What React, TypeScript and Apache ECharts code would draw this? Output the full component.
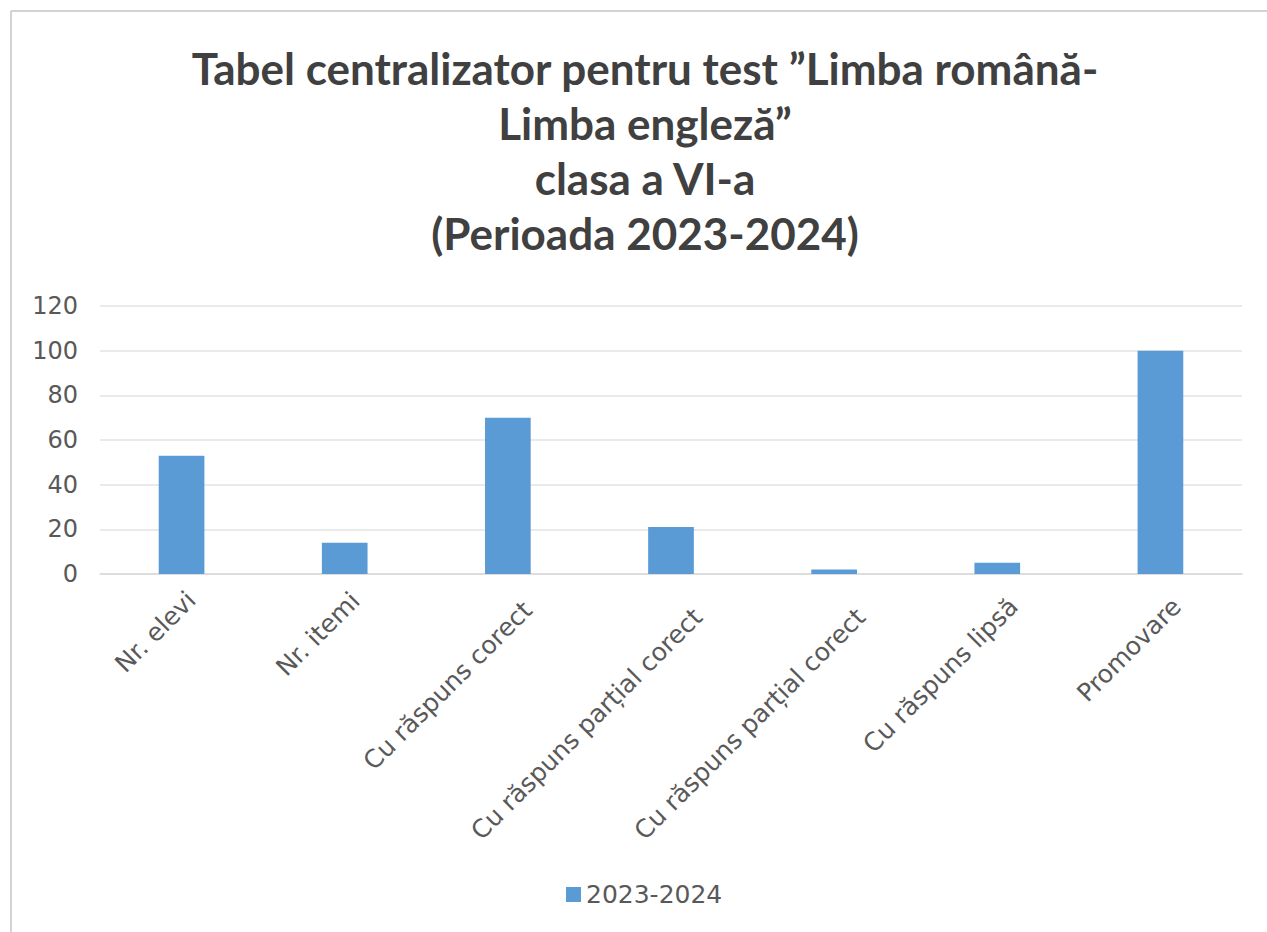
import React, { useEffect, useRef } from "react";
import * as echarts from "echarts";

const titleLines = [
  "Tabel centralizator pentru test \u201DLimba română-",
  "Limba engleză\u201D",
  "clasa a VI-a",
  "(Perioada 2023-2024)",
];
const categories = [
  "Nr. elevi",
  "Nr. itemi",
  "Cu răspuns corect",
  "Cu răspuns parțial corect",
  "Cu răspuns parțial corect",
  "Cu răspuns lipsă",
  "Promovare",
];
const seriesName = "2023-2024";
const values = [53, 14, 70, 21, 2, 5, 100];
const yTicks = { min: 0, max: 120, interval: 20 };

export default function App() {
  const ref = useRef<HTMLDivElement>(null);
  useEffect(() => {
    if (!ref.current) return;
    const chart = echarts.init(ref.current, null, { renderer: "svg" });
    const labelFont = "'DejaVu Sans', sans-serif";
    // per-label downward-right nudge (layout only), mimicking spreadsheet placement
    const nudge = [0, 1, 14, 24, 24, 9, 9];
    const rich: Record<string, any> = {};
    nudge.forEach((n, i) => {
      rich["r" + i] = {
        fontFamily: labelFont,
        fontSize: 25,
        color: "#595959",
        lineHeight: 28 + 2 * n,
      };
    });
    chart.setOption({
      animation: false,
      backgroundColor: "#ffffff",
      graphic: [
        {
          type: "line",
          shape: { x1: 11, y1: 11, x2: 1267, y2: 11 },
          style: { stroke: "#c4c4c4", lineWidth: 1.5 },
        },
        {
          type: "line",
          shape: { x1: 11, y1: 11, x2: 11, y2: 932 },
          style: { stroke: "#c4c4c4", lineWidth: 1.5 },
        },
        {
          type: "text",
          x: 645,
          y: 40,
          style: {
            text: titleLines.join("\n"),
            align: "center",
            verticalAlign: "top",
            font: "bold 44px Lato, sans-serif",
            lineHeight: 55,
            fill: "#404040",
          },
        },
      ],
      legend: {
        data: [seriesName],
        left: 561,
        top: 877,
        icon: "rect",
        itemWidth: 15,
        itemHeight: 15,
        itemGap: 5,
        textStyle: { fontFamily: labelFont, fontSize: 25, color: "#595959" },
      },
      grid: { left: 100, right: 25, top: 306, bottom: 358, containLabel: false },
      xAxis: {
        type: "category",
        data: categories,
        axisLine: { lineStyle: { color: "#d9d9d9", width: 1.5 } },
        axisTick: { show: false },
        axisLabel: {
          rotate: 45,
          interval: 0,
          margin: 12,
          verticalAlign: "top",
          fontFamily: labelFont,
          fontSize: 25,
          color: "#595959",
          formatter: (v: string, i: number) => `{r${i}|${v}}`,
          rich,
        },
      },
      yAxis: {
        type: "value",
        min: yTicks.min,
        max: yTicks.max,
        interval: yTicks.interval,
        axisLine: { show: false },
        axisTick: { show: false },
        splitLine: { lineStyle: { color: "#e3e3e3", width: 1.5 } },
        axisLabel: {
          margin: 22,
          fontFamily: labelFont,
          fontSize: 24,
          color: "#595959",
        },
      },
      series: [
        {
          name: seriesName,
          type: "bar",
          data: values,
          barWidth: "28%",
          itemStyle: { color: "#5b9bd5" },
        },
      ],
    });
    return () => chart.dispose();
  }, []);
  return (
    <div
      ref={ref}
      style={{ position: "fixed", left: 0, top: 0, width: 1267, height: 932 }}
    />
  );
}
